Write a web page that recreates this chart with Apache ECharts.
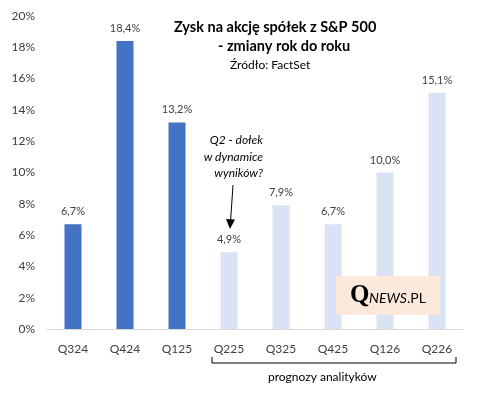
<!DOCTYPE html>
<html>
<head>
    <meta charset="utf-8">
    <title>Zysk na akcję spółek z S&amp;P 500</title>
    <script src="https://cdn.jsdelivr.net/npm/echarts@6/dist/echarts.min.js"></script>
    <style>
        html, body { margin: 0; padding: 0; background: #fff; }
    </style>
</head>
<body>
<div id="chart" style="width: 478px; height: 399px;"></div>
<script>
    // kwartały
    var quarters = ['Q324', 'Q424', 'Q125', 'Q225', 'Q325', 'Q425', 'Q126', 'Q226'];
    // zmiana r/r w %, pierwsze 3 to dane rzeczywiste, reszta to prognozy
    var epsGrowth = [6.7, 18.4, 13.2, 4.9, 7.9, 6.7, 10.0, 15.1];
    var actualCount = 3;
    var yTicks = [0, 2, 4, 6, 8, 10, 12, 14, 16, 18, 20];

    var font = 'Lato, "Noto Sans", sans-serif';

    var option = {
        animation: false,
        textStyle: { fontFamily: font },
        grid: {
            left: 47,
            right: 15,
            top: 16,
            bottom: 70
        },
        xAxis: {
            type: 'category',
            data: quarters,
            axisLine: { lineStyle: { color: '#d9d9d9' } },
            axisTick: { show: false },
            axisLabel: {
                color: '#404040',
                fontSize: 12,
                margin: 14,
                fontFamily: font
            }
        },
        yAxis: {
            type: 'value',
            min: yTicks[0],
            max: yTicks[yTicks.length - 1],
            interval: 2,
            axisLine: { show: false },
            axisTick: { show: false },
            splitLine: { show: false },
            axisLabel: {
                color: '#404040',
                fontSize: 12,
                margin: 12,
                fontFamily: font,
                formatter: '{value}%'
            }
        },
        series: [{
            type: 'bar',
            barWidth: 17,
            data: epsGrowth.map(function (v, i) {
                return {
                    value: v,
                    itemStyle: { color: i < actualCount ? '#4472c4' : '#dae3f3' }
                };
            }),
            label: {
                show: true,
                position: 'top',
                distance: 7,
                color: '#404040',
                fontSize: 11,
                fontFamily: font,
                formatter: function (p) {
                    return p.value.toFixed(1).replace('.', ',') + '%';
                }
            }
        }],
        graphic: [
            // tytuł
            {
                type: 'text',
                left: 174,
                top: 20,
                z: 100,
                style: {
                    text: 'Zysk na akcję spółek z S&P 500',
                    font: 'bold 14.5px ' + font,
                    fill: '#000'
                }
            },
            {
                type: 'text',
                left: 218,
                top: 39,
                z: 100,
                style: {
                    text: '- zmiany rok do roku',
                    font: 'bold 14.5px ' + font,
                    fill: '#000'
                }
            },
            {
                type: 'text',
                left: 230,
                top: 59,
                z: 100,
                style: {
                    text: 'Źródło: FactSet',
                    font: '12px ' + font,
                    fill: '#000'
                }
            },
            // adnotacja
            {
                type: 'text',
                x: 263,
                y: 132,
                z: 100,
                style: {
                    text: 'Q2 - dołek\nw dynamice\nwyników?',
                    font: 'italic 12px ' + font,
                    lineHeight: 16.5,
                    align: 'right',
                    fill: '#000'
                }
            },
            {
                type: 'line',
                z: 100,
                shape: { x1: 233, y1: 185, x2: 230.5, y2: 222 },
                style: { stroke: '#000', lineWidth: 1 }
            },
            {
                type: 'polygon',
                z: 100,
                shape: { points: [[226, 219], [235, 219.5], [230, 229]] },
                style: { fill: '#000' }
            },
            // klamra pod prognozami
            {
                type: 'polyline',
                z: 100,
                shape: { points: [[212, 357], [212, 363], [456, 363], [456, 357]] },
                style: { stroke: '#000', lineWidth: 1, fill: null }
            },
            {
                type: 'text',
                left: 268,
                top: 371,
                z: 100,
                style: {
                    text: 'prognozy analityków',
                    font: '12px ' + font,
                    fill: '#000'
                }
            },
            // logo
            {
                type: 'rect',
                z: 100,
                shape: { x: 336, y: 276, width: 104, height: 39 },
                style: { fill: '#fce9dc' }
            },
            {
                type: 'text',
                z: 101,
                x: 350,
                y: 296,
                style: {
                    text: 'Q',
                    font: 'bold 25px "Liberation Serif", "DejaVu Serif", serif',
                    fill: '#000',
                    verticalAlign: 'middle'
                }
            },
            {
                type: 'text',
                z: 101,
                x: 369,
                y: 298,
                style: {
                    text: 'NEWS',
                    font: 'italic 14px ' + font,
                    fill: '#000',
                    verticalAlign: 'middle'
                }
            },
            {
                type: 'text',
                z: 101,
                x: 407,
                y: 298,
                style: {
                    text: '.PL',
                    font: '14px ' + font,
                    fill: '#000',
                    verticalAlign: 'middle'
                }
            }
        ]
    };

    var chart = echarts.init(document.getElementById('chart'));
    chart.setOption(option);
</script>
</body>
</html>
